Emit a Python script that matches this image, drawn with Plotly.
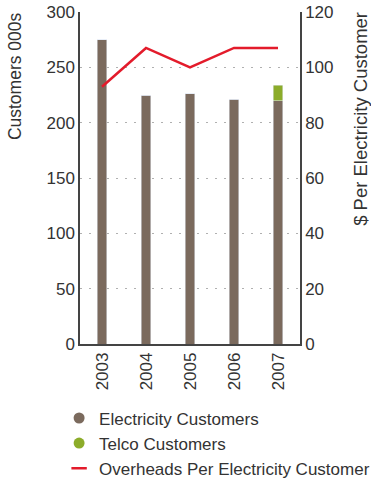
import plotly.graph_objects as go

years = ["2003", "2004", "2005", "2006", "2007"]
electricity = [275, 225, 226, 221, 220]
telco = [0, 0, 0, 0, 14]
overheads = [93, 107, 100, 107, 107]

BROWN = "#7b6a5d"
GREEN = "#8cac2a"
RED = "#e31b2b"
TXT = "#333333"
FONT = "Liberation Sans, Arial, sans-serif"

fig = go.Figure()
fig.add_trace(go.Bar(x=years, y=electricity, marker_color=BROWN, width=0.21,
                     showlegend=False, name="Electricity Customers"))
fig.add_trace(go.Bar(x=years, y=telco, marker_color=GREEN, width=0.21,
                     showlegend=False, name="Telco Customers"))
fig.add_trace(go.Scatter(x=years, y=overheads, mode="lines", yaxis="y2",
                         line=dict(color=RED, width=2.5), showlegend=False,
                         name="Overheads Per Electricity Customer"))
# legend entries
fig.add_trace(go.Scatter(x=[None], y=[None], mode="markers", name="Electricity Customers",
                         legendgroup="a", marker=dict(symbol="circle", size=11, color=BROWN)))
fig.add_trace(go.Scatter(x=[None], y=[None], mode="markers", name="Telco Customers",
                         legendgroup="b", marker=dict(symbol="circle", size=11, color=GREEN)))
fig.add_trace(go.Scatter(x=[None], y=[None], mode="markers", name="Overheads Per Electricity Customer",
                         legendgroup="c",
                         marker=dict(symbol="line-ew", size=11, line=dict(width=2.5, color=RED))))

fig.update_layout(
    width=371, height=480,
    margin=dict(l=80, r=71, t=12, b=136, autoexpand=False),
    paper_bgcolor="white", plot_bgcolor="white",
    barmode="stack",
    font=dict(family=FONT, size=17, color=TXT),
    xaxis=dict(showline=True, linecolor="#444", linewidth=1.5, ticks="",
               tickangle=-90, tickfont=dict(size=17, color=TXT), showgrid=False),
    yaxis=dict(range=[0, 300], dtick=50, showline=True, linecolor="#444", linewidth=1.5,
               ticks="", showgrid=True, gridcolor="#b0b0b0", griddash="2px,7px", gridwidth=1.2,
               zeroline=False, tickfont=dict(size=17, color=TXT)),
    yaxis2=dict(range=[0, 120], dtick=20, overlaying="y", side="right", showline=True,
                linecolor="#444", linewidth=1.5, ticks="", showgrid=False, zeroline=False,
                tickfont=dict(size=17, color=TXT)),
    legend=dict(x=-0.095, xanchor="left", y=-0.17, yanchor="top", orientation="v",
                traceorder="normal", font=dict(size=17, color=TXT), itemwidth=30,
                tracegroupgap=4),
    annotations=[
        dict(text="Customers 000s", textangle=-90, xref="paper", yref="paper",
             x=-0.295, y=1.006, xanchor="center", yanchor="top", showarrow=False,
             font=dict(size=17.5, color=TXT)),
        dict(text="$ Per Electricity Customer", textangle=-90, xref="paper", yref="paper",
             x=1.272, y=1.006, xanchor="center", yanchor="top", showarrow=False,
             font=dict(size=18.5, color=TXT)),
    ],
)

fig.write_html("out.html")
